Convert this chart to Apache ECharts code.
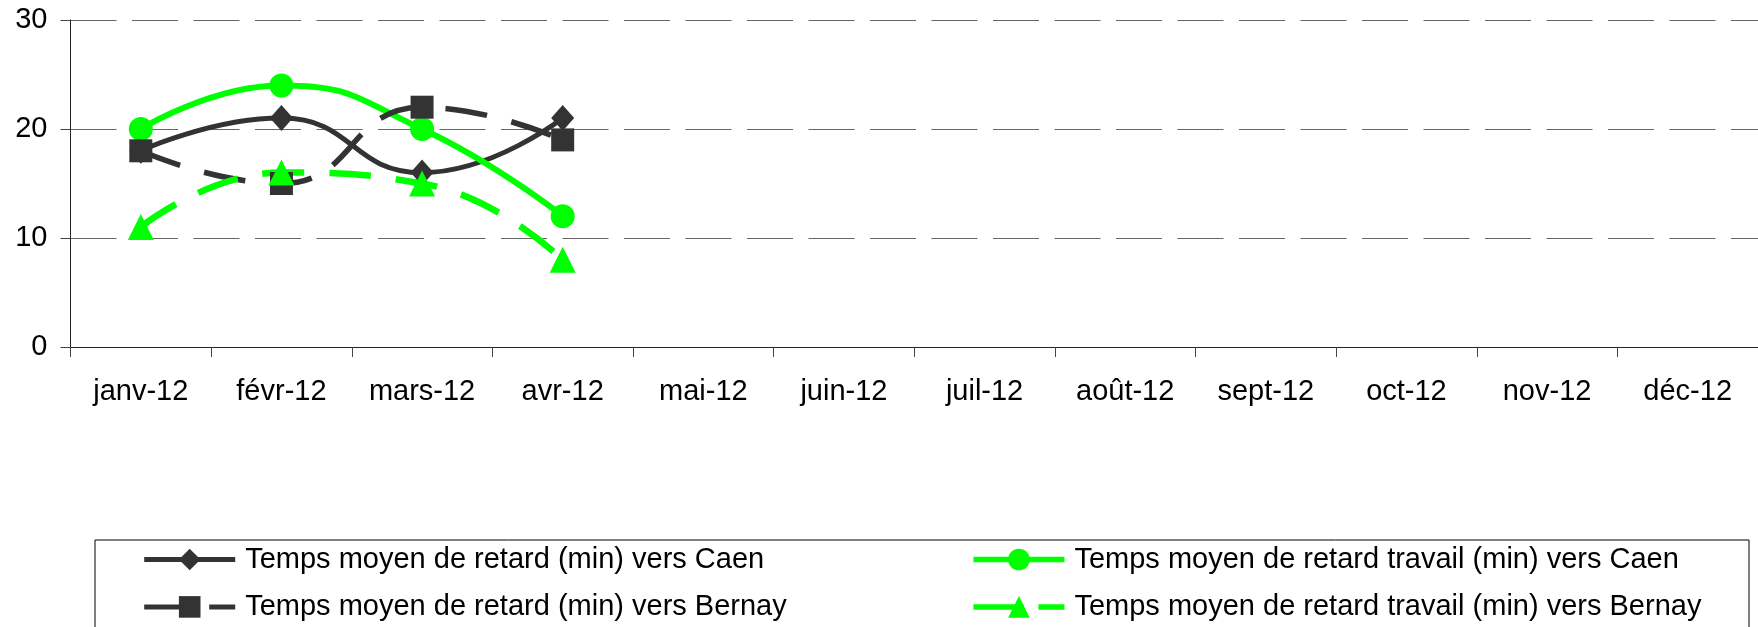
<!DOCTYPE html>
<html>
<head>
<meta charset="utf-8">
<script src="https://cdn.jsdelivr.net/npm/echarts@6/dist/echarts.min.js"></script>
<style>
html,body{margin:0;padding:0;background:#fff;}
#chart{width:1758px;height:627px;}
</style>
</head>
<body>
<div id="chart"></div>
<script>
var months = ['janv-12','févr-12','mars-12','avr-12','mai-12','juin-12','juil-12','août-12','sept-12','oct-12','nov-12','déc-12'];
var retardCaen = [18, 21, 16, 21, null, null, null, null, null, null, null, null];
var travailCaen = [20, 24, 20, 12, null, null, null, null, null, null, null, null];
var retardBernay = [18, 15, 22, 19, null, null, null, null, null, null, null, null];
var travailBernay = [11, 16, 15, 8, null, null, null, null, null, null, null, null];
var yTicks = [0, 10, 20, 30];

var names = [
  'Temps moyen de retard (min) vers Caen',
  'Temps moyen de retard travail (min) vers Caen',
  'Temps moyen de retard (min) vers Bernay',
  'Temps moyen de retard travail (min) vers Bernay'
];
var DARK = '#333333', GREEN = '#00ff00';
var FONT = 'Liberation Sans, Arial, sans-serif';
var DASH = [42, 25];
var LEG_DASH = [50, 15];

var chart = echarts.init(document.getElementById('chart'), null, {renderer: 'canvas'});
function ser(name, data, color, symbol, size, width, dashed) {
  return {
    name: name, type: 'line', data: data, smooth: 0.5,
    symbol: symbol, symbolSize: size, showSymbol: true,
    connectNulls: false,
    lineStyle: {color: color, width: width, type: dashed ? DASH : 'solid', cap: 'butt'},
    itemStyle: {color: color},
    emphasis: {disabled: true},
    animation: false
  };
}
function legItem(name, color, width, dashed) {
  return {name: name, lineStyle: {color: color, width: width, type: dashed ? LEG_DASH : 'solid', cap: 'butt'}};
}
var legendText = {fontFamily: FONT, fontSize: 29, color: '#000', lineHeight: 29, padding: [0, 0, 0, 5]};
chart.setOption({
  animation: false,
  backgroundColor: '#fff',
  grid: {left: 70.5, top: 20, width: 1696, height: 327, containLabel: false},
  xAxis: {
    type: 'category', data: months, boundaryGap: true,
    axisLine: {lineStyle: {color: '#222', width: 1}},
    axisTick: {show: true, alignWithLabel: false, length: 10, lineStyle: {color: '#444'}},
    axisLabel: {fontFamily: FONT, fontSize: 29, color: '#000', margin: 30, interval: 0},
    splitLine: {show: false}
  },
  yAxis: {
    type: 'value', min: yTicks[0], max: yTicks[yTicks.length - 1], interval: 10,
    axisLine: {show: true, lineStyle: {color: '#222', width: 1}},
    axisTick: {show: true, length: 10, lineStyle: {color: '#444'}},
    axisLabel: {fontFamily: FONT, fontSize: 29, color: '#000', margin: 23},
    splitLine: {show: true, lineStyle: {color: '#666', width: 1, type: [46, 15.5]}}
  },
  legend: [
    {data: [legItem(names[0], DARK, 5, false), legItem(names[2], DARK, 5, true)],
     orient: 'vertical', left: 141.7, top: 545, padding: 0,
     itemWidth: 91, itemHeight: 27, itemGap: 18.4, textStyle: legendText, selectedMode: false},
    {data: [legItem(names[1], GREEN, 5.5, false), legItem(names[3], GREEN, 5.5, true)],
     orient: 'vertical', left: 970.7, top: 545, padding: 0,
     itemWidth: 91, itemHeight: 27, itemGap: 18.4, textStyle: legendText, selectedMode: false}
  ],
  graphic: [{
    type: 'rect', left: 92.5, top: 537.5, z: -1,
    shape: {width: 1654, height: 120},
    style: {fill: 'none', stroke: '#000', lineWidth: 1}
  }],
  series: [
    ser(names[0], retardCaen, DARK, 'diamond', [23, 26], 5, false),
    ser(names[1], travailCaen, GREEN, 'circle', 24, 6, false),
    ser(names[2], retardBernay, DARK, 'rect', 23, 5.5, true),
    ser(names[3], travailBernay, GREEN, 'triangle', 26, 6.5, true)
  ]
});
</script>
</body>
</html>
